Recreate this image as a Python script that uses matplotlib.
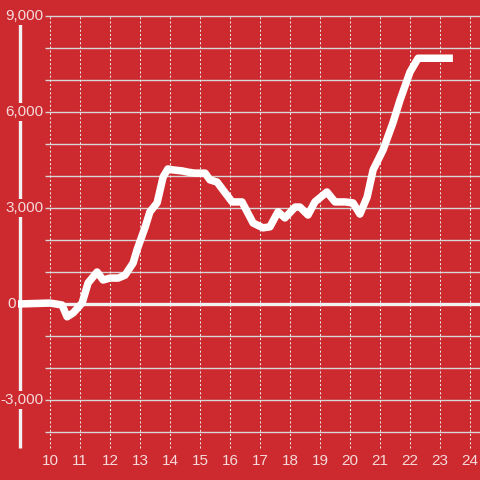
import matplotlib.pyplot as plt

# traced series (hour of day, value)
hours = [8.93, 10.0, 10.4, 10.57, 10.77, 11.07, 11.27, 11.57, 11.77, 12.0,
         12.27, 12.5, 12.77, 12.9, 13.17, 13.33, 13.57, 13.77, 13.93, 14.1,
         14.4, 14.6, 14.83, 15.17, 15.33, 15.57, 15.77, 16.07, 16.4, 16.77,
         17.1, 17.33, 17.6, 17.83, 18.17, 18.33, 18.6, 18.83, 19.23, 19.5,
         19.83, 20.1, 20.33, 20.57, 20.77, 21.1, 21.43, 21.67, 22.0, 22.27,
         23.43]
values = [0, 30, -30, -400, -280, 30, 660, 1000, 750, 810,
          810, 900, 1280, 1690, 2400, 2880, 3160, 3970, 4220, 4190,
          4160, 4120, 4090, 4090, 3880, 3810, 3560, 3190, 3190, 2530,
          2380, 2410, 2880, 2690, 3030, 3030, 2780, 3190, 3500, 3190,
          3190, 3160, 2810, 3340, 4190, 4810, 5660, 6380, 7250, 7680,
          7680]

x_ticks = list(range(10, 25))
y_ticks = [9000, 6000, 3000, 0, -3000]
grid_y = list(range(-4000, 10000, 1000))

bg = '#cc2a2f'
label_col = '#f6d9da'

fig = plt.figure(figsize=(4.8, 4.8), dpi=100, facecolor=bg)
ax = fig.add_axes([0, 0, 1, 1], facecolor=bg)
ax.set_xlim(8.333, 24.333)
ax.set_ylim(-5500, 9500)
ax.axis('off')

# grid
ax.hlines([g for g in grid_y if g != 0], 9.83, 24.333, color='#d6d6d6', lw=1.0, zorder=1)
ax.vlines(x_ticks, -4500, 9000, color='#e8e8e8', lw=0.75, linestyles=(0, (2, 2)), zorder=1)

# zero line and y axis
ax.hlines(0, 8.9, 24.333, color='#f2f2f2', lw=2.4, zorder=2)
ax.vlines(9.0, -4500, 8750, color='#f2f2f2', lw=2.4, zorder=2)

# series
ax.plot(hours, values, color='white', lw=5.4, solid_joinstyle='round',
        solid_capstyle='butt', zorder=3)

# y labels
for v in y_ticks:
    x = 9.77 if v != 0 else 8.85
    ax.text(x, v, f'{v:,}', ha='right', va='center', color=label_col,
            fontsize=11, family='Liberation Sans', zorder=4,
            bbox=dict(facecolor=bg, edgecolor='none', pad=1.5))

# x labels
for h in x_ticks:
    ax.text(h, -4906, str(h), ha='center', va='center', color=label_col,
            fontsize=11, family='Liberation Sans', zorder=4)

fig.savefig('out.png', dpi=100, facecolor=bg)
